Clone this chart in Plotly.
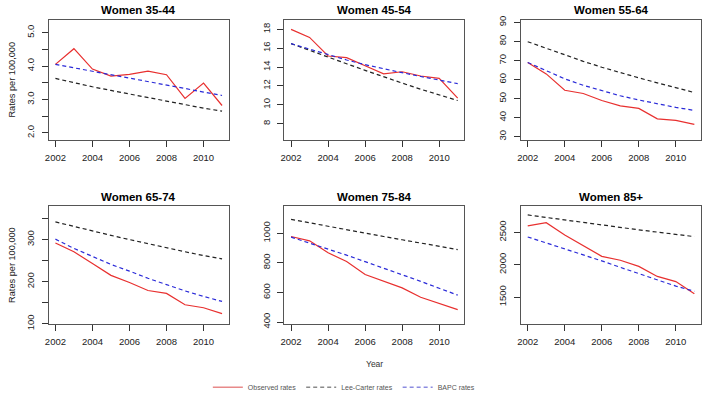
import plotly.graph_objects as go

W, H = 704, 407

years = list(range(2002, 2012))

titles = ["Women 35-44", "Women 45-54", "Women 55-64",
          "Women 65-74", "Women 75-84", "Women 85+"]

observed = [
    [4.05, 4.52, 3.91, 3.70, 3.75, 3.85, 3.74, 3.03, 3.49, 2.82],
    [18.0, 17.14, 15.17, 15.0, 14.14, 13.28, 13.5, 13.05, 12.8, 10.7],
    [69.0, 63.0, 54.4, 52.7, 49.0, 46.2, 44.9, 39.4, 38.6, 36.5],
    [292, 271, 243, 215, 198, 179, 172, 145, 138, 124],
    [978, 949, 868, 809, 721, 677, 631, 567, 527, 484],
    [2600, 2650, 2460, 2300, 2130, 2070, 1975, 1820, 1740, 1550],
]
lee_carter = [
    [3.63, 3.50, 3.38, 3.27, 3.16, 3.06, 2.95, 2.84, 2.74, 2.65],
    [16.48, 15.75, 15.05, 14.35, 13.65, 12.95, 12.3, 11.65, 11.05, 10.45],
    [79.9, 76.4, 73.0, 69.6, 66.5, 63.6, 60.9, 58.3, 55.7, 53.2],
    [342, 331, 320, 310, 300, 290, 280, 271, 262, 254],
    [1094, 1070, 1046, 1023, 1000, 978, 956, 934, 912, 890],
    [2770, 2730, 2690, 2650, 2615, 2580, 2540, 2505, 2470, 2435],
]
bapc = [
    [4.05, 3.95, 3.84, 3.74, 3.63, 3.53, 3.43, 3.33, 3.22, 3.12],
    [16.48, 15.9, 15.3, 14.75, 14.25, 13.8, 13.4, 13.0, 12.6, 12.24],
    [69.0, 64.5, 60.4, 57.0, 54.1, 51.5, 49.3, 47.2, 45.4, 43.8],
    [301, 279, 260, 241, 225, 208, 193, 178, 165, 153],
    [974, 935, 895, 852, 808, 765, 720, 675, 628, 582],
    [2430, 2340, 2250, 2160, 2060, 1960, 1860, 1760, 1670, 1590],
]

y_ranges = [[1.80, 5.39], [6.31, 19.03], [28.5, 91.5],
            [99.5, 380], [387, 1185], [1085, 2910]]
y_tickvals = [
    [2.0, 2.5, 3.0, 3.5, 4.0, 4.5, 5.0],
    [8, 10, 12, 14, 16, 18],
    [30, 40, 50, 60, 70, 80, 90],
    [100, 150, 200, 250, 300, 350],
    [400, 600, 800, 1000],
    [1500, 2000, 2500],
]
y_ticktext = [
    ["2.0", "", "3.0", "", "4.0", "", "5.0"],
    ["8", "10", "12", "14", "16", "18"],
    ["30", "40", "50", "60", "70", "80", "90"],
    ["100", "", "200", "", "300", ""],
    ["400", "600", "800", "1000"],
    ["1500", "2000", "2500"],
]
x_tickvals = [2002, 2004, 2006, 2008, 2010]
x_range = [2001.64, 2011.36]

series_names = ["Observed rates", "Lee-Carter rates", "BAPC rates"]
series_colors = ["#e8302f", "#222222", "#2a2ad8"]
legend_colors = ["#e88a8a", "#8a8a8a", "#8c8ce0"]
series_dash = ["solid", "4px,3px", "4px,3px"]

# panel boxes in pixels (left, right, top, bottom)
cols = [(45, 226), (282, 463), (520, 701)]
rows = [(16, 139), (207, 328)]

FONT = "Liberation Sans, Arial, Helvetica, sans-serif"

fig = go.Figure()
layout = dict(
    width=W, height=H,
    margin=dict(l=0, r=0, t=0, b=0),
    paper_bgcolor="white", plot_bgcolor="white",
    font=dict(family=FONT, color="#222", size=9.5),
    showlegend=True,
)

annotations = []
for i in range(6):
    r, c = divmod(i, 3)
    xl, xr = cols[c]
    yt, yb = rows[r]
    ax = "" if i == 0 else str(i + 1)
    xa = "x" + ax
    ya = "y" + ax
    layout["xaxis" + ax] = dict(
        domain=[xl / W, xr / W], range=x_range, anchor=ya,
        tickvals=x_tickvals, ticks="outside", ticklen=6, tickcolor="#333",
        showline=True, mirror=True, linecolor="#555", linewidth=1,
        showgrid=False, zeroline=False, ticklabelstandoff=3,
        tickfont=dict(size=9.5, color="#222"),
    )
    layout["yaxis" + ax] = dict(
        domain=[(H - yb) / H, (H - yt) / H], range=y_ranges[i], anchor=xa,
        tickvals=y_tickvals[i], ticktext=y_ticktext[i], tickangle=-90,
        ticks="outside", ticklen=6, tickcolor="#333",
        showline=True, mirror=True, linecolor="#555", linewidth=1,
        showgrid=False, zeroline=False, ticklabelstandoff=4,
        tickfont=dict(size=9.5, color="#222"),
    )
    for s, data in enumerate([observed, lee_carter, bapc]):
        fig.add_trace(go.Scatter(
            x=years, y=data[i], mode="lines", xaxis=xa, yaxis=ya,
            line=dict(color=series_colors[s], width=1.2, dash=series_dash[s]),
            showlegend=False, hoverinfo="skip",
        ))
    annotations.append(dict(
        text="<b>" + titles[i] + "</b>", xref="paper", yref="paper",
        x=(xl + xr) / 2 / W, y=(H - (yt - 9.5)) / H,
        xanchor="center", yanchor="middle", showarrow=False,
        font=dict(size=11.5, color="#000", family=FONT),
    ))
    if c == 0:
        annotations.append(dict(
            text="Rates per 100,000", xref="paper", yref="paper",
            x=8 / W, y=(H - (yt + yb) / 2) / H, textangle=-90,
            xanchor="center", yanchor="middle", showarrow=False,
            font=dict(size=9.2, color="#222", family=FONT),
        ))

annotations.append(dict(
    text="Year", xref="paper", yref="paper",
    x=372.5 / W, y=(H - 369) / H, xanchor="center", yanchor="middle",
    showarrow=False, font=dict(size=8.5, color="#333", family=FONT),
))

# legend-only entries
for s in range(3):
    fig.add_trace(go.Scatter(
        x=[None], y=[None], mode="lines", name=series_names[s],
        line=dict(color=legend_colors[s], width=1.5, dash=series_dash[s]),
        showlegend=True,
    ))

layout["legend"] = dict(
    orientation="h", x=205 / W, y=(H - 393) / H, xanchor="left",
    yanchor="middle", bgcolor="rgba(0,0,0,0)",
    font=dict(size=7, color="#555", family=FONT),
    itemwidth=30, tracegroupgap=0,
)
layout["annotations"] = annotations
fig.update_layout(**layout)
fig.write_html("out.html", config={"displayModeBar": False},
               post_script="document.body.style.margin='0px';")
